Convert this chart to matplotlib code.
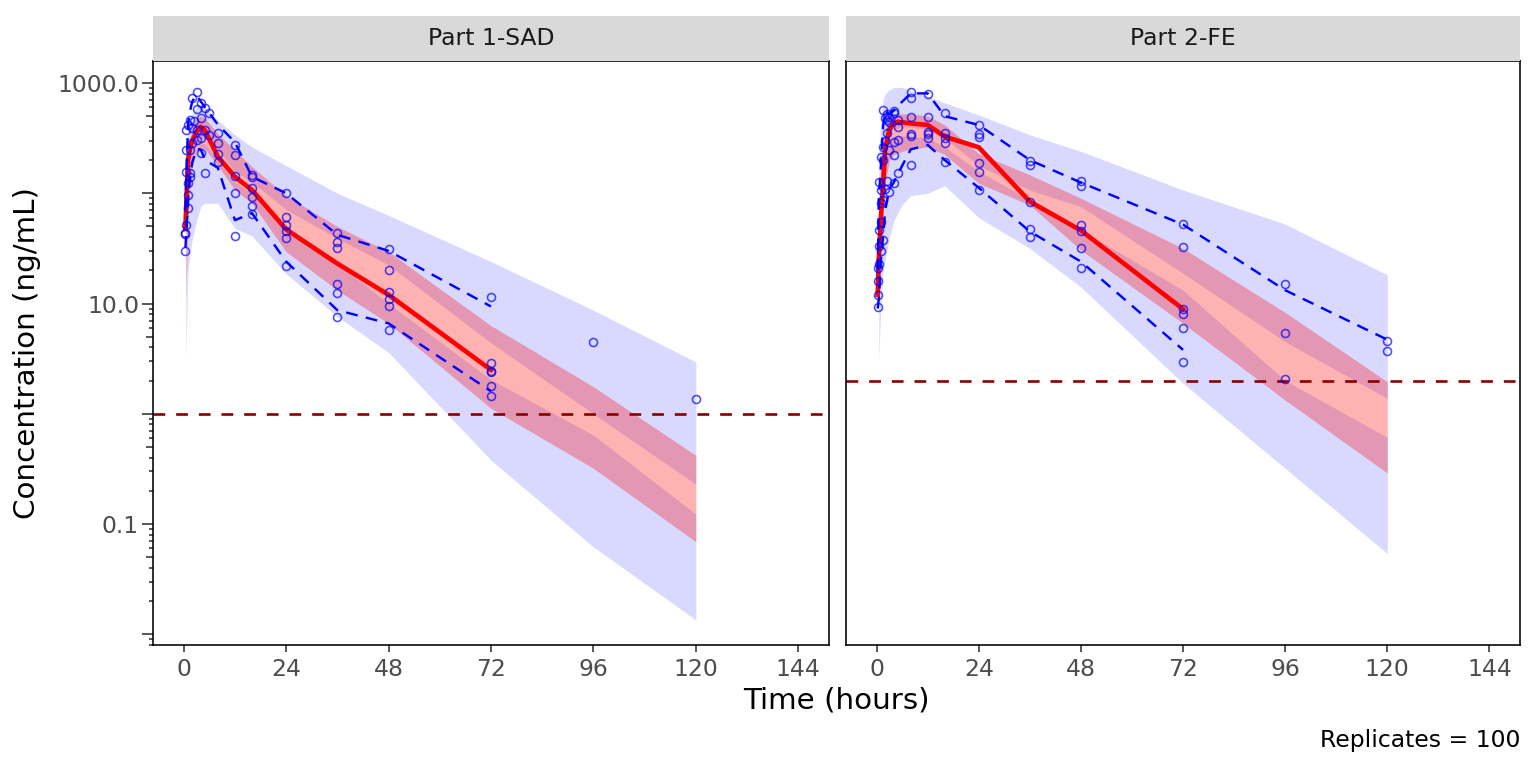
import matplotlib
matplotlib.use('Agg')
import matplotlib.pyplot as plt
from matplotlib.ticker import FixedLocator, FixedFormatter, NullFormatter, NullLocator

plt.rcParams['font.family'] = ['DejaVu Sans']

###################### Data ######################

panels = ['Part 1-SAD', 'Part 2-FE']
lloq = [1.0, 2.0]

# observed concentrations (ng/mL)
obs_t_sad = [0.25, 0.25, 0.25,
             0.5, 0.5, 0.5, 0.5,
             1, 1, 1, 1,
             1.5, 1.5, 1.5, 1.5,
             2, 2, 2, 2.5,
             3, 3, 3, 3,
             4, 4, 4, 4,
             5, 5, 5, 6, 6,
             8, 8, 8, 8,
             12, 12, 12, 12, 12,
             16, 16, 16, 16, 16, 16,
             24, 24, 24, 24, 24, 24,
             36, 36, 36, 36, 36, 36,
             48, 48, 48, 48, 48, 48,
             72, 72, 72, 72, 72, 72,
             96, 120]
obs_c_sad = [30, 43, 44,
             52, 157, 247, 375,
             73, 96, 123, 416,
             141, 152, 247, 462,
             284, 388, 726, 455,
             304, 375, 577, 834,
             230, 315, 478, 663,
             154, 375, 589, 338, 531,
             194, 227, 288, 355,
             41, 101, 144, 222, 274,
             65, 76, 93, 111, 141, 147,
             22, 39, 45, 52, 61, 101,
             7.5, 12.5, 15, 32, 36, 44,
             5.8, 9.5, 10.9, 12.8, 20, 31,
             1.45, 1.79, 2.41, 2.46, 2.87, 11.5,
             4.5, 1.36]

obs_t_fe = [0.25, 0.25, 0.25, 0.25,
            0.5, 0.5, 0.5, 0.5,
            1, 1, 1, 1, 1,
            1.5, 1.5, 1.5, 1.5, 1.5,
            2, 2, 2,
            2.5, 2.5, 2.5, 2.5,
            3, 3, 3, 3,
            4, 4, 4, 4, 4,
            5, 5, 5, 5,
            8, 8, 8, 8, 8, 8,
            12, 12, 12, 12, 12,
            16, 16, 16, 16, 16,
            24, 24, 24, 24, 24, 24,
            36, 36, 36, 36, 36,
            48, 48, 48, 48, 48, 48,
            72, 72, 72, 72, 72, 72,
            96, 96, 96,
            120, 120]
obs_c_fe = [9.3, 12, 16, 21,
            23, 33, 46, 127,
            30, 55, 81, 107, 213,
            38, 87, 200, 264, 569,
            110, 300, 478,
            130, 350, 462, 520,
            103, 247, 445, 495,
            125, 222, 293, 531, 560,
            152, 304, 402, 462,
            180, 330, 344, 495, 726, 834,
            315, 344, 362, 489, 789,
            194, 284, 315, 349, 538,
            106, 157, 187, 326, 344, 416,
            40, 47, 84, 180, 198,
            20.8, 32, 45, 51.5, 116, 130,
            2.95, 6.0, 8.0, 8.9, 32.3, 52.6,
            2.08, 5.4, 14.9,
            3.7, 4.6]

# observed percentile lines
line_t_sad = [0.4, 1, 1.5, 2, 3, 4, 5, 8, 12, 16, 24, 36, 48, 72]
obs_med_sad = [48, 200, 260, 300, 360, 400, 370, 215, 141, 107, 47, 23, 12, 2.5]
obs_p05_sad = [32, 85, 140, 190, 250, 250, 200, 170, 57, 66, 24, 8.7, 6.6, 1.6]
obs_p95_sad = [70, 420, 560, 680, 780, 680, 600, 420, 290, 141, 100, 42, 30, 9.4]

line_t_fe = [0.25, 0.5, 1, 1.5, 2, 3, 4, 5, 8, 12, 16, 24, 36, 48, 72]
obs_med_fe = [12, 25, 60, 120, 250, 380, 430, 445, 430, 416, 326, 261, 84, 46, 8.9]
obs_p05_fe = [9, 11, 25, 40, 70, 110, 125, 150, 250, 274, 200, 112, 45, 24, 3.8]
p95_t_fe = [0.25, 0.5, 1, 1.5, 2, 3, 4, 5, 8, 12, 16, 24, 36, 48, 72, 96, 120]
obs_p95_fe = [20, 90, 180, 400, 560, 520, 560, 620, 805, 805, 500, 416, 200, 125, 52, 13.2, 4.7]

# simulated confidence intervals (100 replicates)
sim_t_sad = [0.5, 1, 1.5, 2, 3, 4, 5, 8, 12, 16, 24, 36, 48, 72, 96, 120]
p95_hi_sad = [158, 355, 447, 525, 603, 631, 603, 457, 339, 263, 178, 100, 63, 24, 8.7, 2.95]
p95_lo_sad = [40, 100, 158, 224, 282, 316, 316, 251, 158, 126, 71, 39, 22.4, 4.4, 1.0, 0.23]
p50_hi_sad = [79, 224, 316, 398, 479, 501, 479, 347, 245, 174, 95, 50, 29.5, 6.3, 1.76, 0.42]
p50_lo_sad = [11.5, 56, 112, 178, 240, 263, 251, 178, 107, 81, 29.5, 13.2, 6.6, 1.12, 0.32, 0.069]
p05_hi_sad = [32, 89, 141, 200, 251, 282, 282, 200, 126, 100, 44.7, 22.9, 10, 2.04, 0.64, 0.123]
p05_lo_sad = [3.1, 20, 28, 38, 56, 76, 81, 81, 48, 41, 18.6, 7.6, 3.6, 0.38, 0.062, 0.0135]

sim_t_fe = [0.5, 1, 1.5, 2, 3, 4, 6, 8, 12, 16, 24, 36, 48, 72, 96, 120]
p95_hi_fe = [200, 501, 708, 794, 871, 912, 912, 851, 759, 661, 513, 339, 240, 107, 52.5, 18.2]
p95_lo_fe = [50, 126, 200, 282, 355, 380, 398, 398, 380, 316, 178, 107, 75.5, 18.8, 4.5, 1.38]
p50_hi_fe = [79, 178, 282, 380, 479, 525, 525, 525, 501, 417, 229, 147, 90, 31.6, 8.3, 1.95]
p50_lo_fe = [15.8, 40, 79, 126, 200, 224, 240, 251, 263, 224, 123, 78, 30.5, 6.6, 1.33, 0.29]
p05_hi_fe = [32, 79, 126, 200, 282, 316, 331, 331, 316, 263, 158, 87, 46.5, 13.2, 2.0, 0.61]
p05_lo_fe = [3.1, 10, 20, 25, 40, 56, 79, 95, 100, 117, 60, 31.6, 14.1, 1.89, 0.32, 0.054]

x_ticks = [0, 24, 48, 72, 96, 120, 144]
y_label_ticks = [0.1, 10, 1000]
y_labels = ['0.1', '10.0', '1000.0']

######################## Plotting ###########################

fig = plt.figure(figsize=(8, 4), dpi=192)

ax_pos = [[0.0996, 0.1602, 0.4401, 0.7604], [0.5508, 0.1602, 0.4388, 0.7604]]

data = [
    (obs_t_sad, obs_c_sad, line_t_sad, obs_med_sad, obs_p05_sad, line_t_sad, obs_p95_sad,
     sim_t_sad, p95_hi_sad, p95_lo_sad, p50_hi_sad, p50_lo_sad, p05_hi_sad, p05_lo_sad),
    (obs_t_fe, obs_c_fe, line_t_fe, obs_med_fe, obs_p05_fe, p95_t_fe, obs_p95_fe,
     sim_t_fe, p95_hi_fe, p95_lo_fe, p50_hi_fe, p50_lo_fe, p05_hi_fe, p05_lo_fe),
]

decades = [10.0 ** k for k in range(-3, 4)]
shorts = [m * d for d in decades for m in (2, 3, 4, 6, 7, 8, 9)]
fives = [5 * d for d in decades]

for i in range(2):
    (ot, oc, lt, med, p05, pt95, p95, st, u_hi, u_lo, m_hi, m_lo, l_hi, l_lo) = data[i]
    ax = fig.add_axes(ax_pos[i])
    ax.set_yscale('log')

    # simulated CIs
    ax.fill_between(st, u_lo, u_hi, color='blue', alpha=0.15, lw=0)
    ax.fill_between(st, l_lo, l_hi, color='blue', alpha=0.15, lw=0)
    ax.fill_between(st, m_lo, m_hi, color='red', alpha=0.3, lw=0)

    ax.axhline(lloq[i], color='#8B0000', lw=1.0, dashes=(4.4, 4.1))

    # observed percentiles
    ax.plot(lt, med, color='red', lw=1.75, solid_joinstyle='round')
    ax.plot(lt, p05, color='blue', lw=0.9, dashes=(4.9, 3.5))
    ax.plot(pt95, p95, color='blue', lw=0.9, dashes=(4.9, 3.5))

    # observations
    ax.plot(ot, oc, 'o', ms=3.0, mfc='none', mec=(0, 0, 1, 0.7), mew=0.6)

    ax.set_xlim(-7.2, 151.2)
    ax.set_ylim(10 ** -2.097, 10 ** 3.1996)
    ax.set_xticks(x_ticks)
    ax.set_xticklabels([str(x) for x in x_ticks])
    ax.tick_params(axis='x', length=2.75, width=0.6, color='#333333',
                   labelsize=8.8, labelcolor='#4D4D4D', pad=2.2)
    for s in ax.spines.values():
        s.set_linewidth(0.6)
        s.set_color('black')

    if i == 0:
        ax.yaxis.set_major_locator(FixedLocator(decades))
        ax.yaxis.set_major_formatter(FixedFormatter(
            [y_labels[y_label_ticks.index(d)] if d in y_label_ticks else '' for d in decades]))
        ax.yaxis.set_minor_locator(FixedLocator(shorts))
        ax.yaxis.set_minor_formatter(NullFormatter())
        ax.tick_params(axis='y', which='major', length=4.0, width=0.6, color='#333333',
                       labelsize=8.8, labelcolor='#4D4D4D', pad=1.2)
        ax.tick_params(axis='y', which='minor', length=1.5, width=0.6, color='#333333')
        sec = ax.secondary_yaxis('left')
        sec.yaxis.set_major_locator(FixedLocator(fives))
        sec.yaxis.set_minor_locator(NullLocator())
        sec.yaxis.set_major_formatter(NullFormatter())
        sec.tick_params(axis='y', length=2.7, width=0.6, color='#333333')
        sec.spines['left'].set_visible(False)
    else:
        ax.tick_params(axis='y', which='both', left=False, labelleft=False)
        ax.yaxis.set_minor_formatter(NullFormatter())

    # facet strip
    sx = fig.add_axes([ax_pos[i][0], 0.9206, ax_pos[i][2], 0.0586])
    sx.set_facecolor('#D9D9D9')
    sx.set_xticks([])
    sx.set_yticks([])
    for s in sx.spines.values():
        s.set_visible(False)
    sx.text(0.5, 0.5, panels[i], ha='center', va='center', fontsize=8.8,
            color='#1A1A1A', transform=sx.transAxes)

fig.text(0.5446, 0.0885, 'Time (hours)', ha='center', va='center', fontsize=11)
fig.text(0.0176, 0.5404, 'Concentration (ng/mL)', ha='center', va='center',
         rotation=90, fontsize=11)
fig.text(0.9896, 0.0352, 'Replicates = 100', ha='right', va='center', fontsize=8.8)

fig.savefig('out.png', dpi=192)
